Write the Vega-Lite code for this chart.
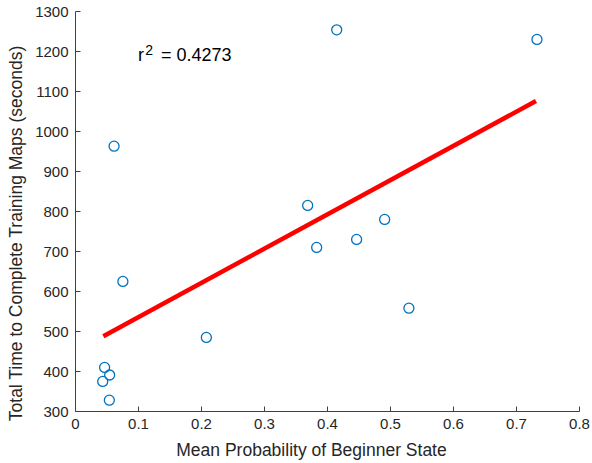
{
  "$schema": "https://vega.github.io/schema/vega-lite/v6.json",
  "width": 504,
  "height": 400,
  "autosize": "none",
  "padding": {"left": 75, "top": 11, "right": 13, "bottom": 52},
  "background": "white",
  "config": {
    "view": {"stroke": null},
    "font": "Liberation Sans",
    "axis": {
      "grid": false,
      "domainColor": "#404040",
      "domainWidth": 1,
      "tickColor": "#404040",
      "tickSize": -5,
      "tickWidth": 1,
      "labelColor": "#262626",
      "labelFont": "Liberation Sans",
      "labelFontSize": 15,
      "labelOverlap": false,
      "titleColor": "#262626",
      "titleFont": "Liberation Sans",
      "titleFontSize": 17.5,
      "titleFontWeight": "normal"
    }
  },
  "datasets": {
    "points": [
      {"prob": 0.062, "time": 962},
      {"prob": 0.076, "time": 624},
      {"prob": 0.2085, "time": 484},
      {"prob": 0.047, "time": 409},
      {"prob": 0.055, "time": 390},
      {"prob": 0.044, "time": 374},
      {"prob": 0.0545, "time": 327},
      {"prob": 0.4154, "time": 1253},
      {"prob": 0.7333, "time": 1229},
      {"prob": 0.3693, "time": 814},
      {"prob": 0.4915, "time": 779},
      {"prob": 0.447, "time": 729},
      {"prob": 0.3836, "time": 709},
      {"prob": 0.530, "time": 557}
    ],
    "fit": [
      {"prob": 0.045, "time": 487},
      {"prob": 0.7317, "time": 1075}
    ],
    "note": [
      {"part": "r", "px": 0.1, "py": 1176},
      {"part": "= 0.4273", "px": 0.1365, "py": 1176}
    ],
    "sup": [
      {"part": "2", "px": 0.1115, "py": 1190}
    ]
  },
  "layer": [
    {
      "data": {"name": "fit"},
      "mark": {"type": "line", "color": "#ff0000", "strokeWidth": 4.5, "strokeCap": "butt"},
      "encoding": {
        "x": {
          "field": "prob", "type": "quantitative",
          "scale": {"domain": [0, 0.8], "nice": false},
          "axis": {"values": [0, 0.1, 0.2, 0.3, 0.4, 0.5, 0.6, 0.7, 0.8], "tickCount": 20, "format": "~g", "labelPadding": 10, "labelOverlap": false, "title": "Mean Probability of Beginner State", "titleX": 236, "titleY": 44, "titleAlign": "center", "titleBaseline": "alphabetic", "labelFlush": false}
        },
        "y": {
          "field": "time", "type": "quantitative",
          "scale": {"domain": [300, 1300], "nice": false, "zero": false},
          "axis": {"values": [300, 400, 500, 600, 700, 800, 900, 1000, 1100, 1200, 1300], "tickCount": 20, "format": "d", "labelPadding": 12, "labelOverlap": false, "title": "Total Time to Complete Training Maps (seconds)", "titleX": -54, "titleY": 222, "titleAngle": -90, "titleAlign": "center", "titleBaseline": "alphabetic", "labelFlush": false}
        }
      }
    },
    {
      "data": {"name": "points"},
      "mark": {"type": "point", "shape": "circle", "filled": false, "color": "#0072BD", "size": 100, "strokeWidth": 1.3, "opacity": 1},
      "encoding": {
        "x": {"field": "prob", "type": "quantitative"},
        "y": {"field": "time", "type": "quantitative"}
      }
    },
    {
      "data": {"name": "note"},
      "mark": {"type": "text", "font": "Liberation Sans", "fontSize": 18, "color": "#000000", "align": "left", "baseline": "alphabetic"},
      "encoding": {
        "x": {"field": "px", "type": "quantitative"},
        "y": {"field": "py", "type": "quantitative"},
        "text": {"field": "part"}
      }
    },
    {
      "data": {"name": "sup"},
      "mark": {"type": "text", "font": "Liberation Sans", "fontSize": 14, "color": "#000000", "align": "left", "baseline": "alphabetic"},
      "encoding": {
        "x": {"field": "px", "type": "quantitative"},
        "y": {"field": "py", "type": "quantitative"},
        "text": {"field": "part"}
      }
    }
  ]
}
